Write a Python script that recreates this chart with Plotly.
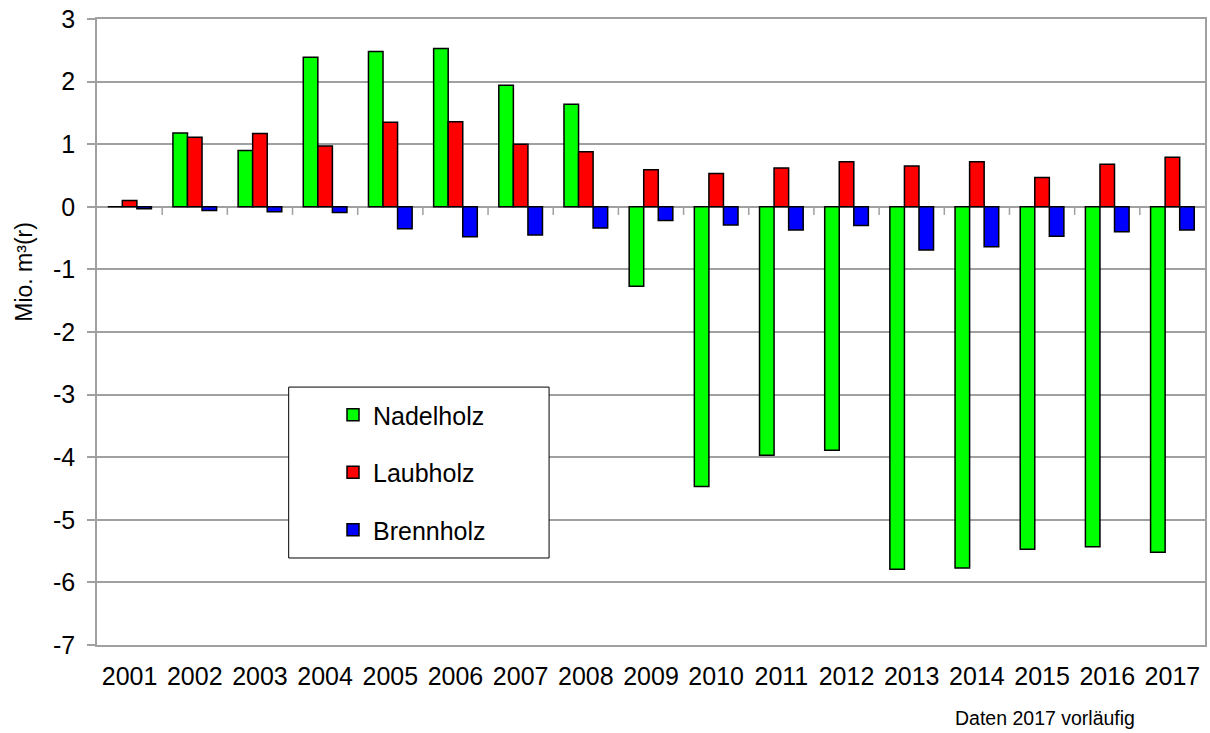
import plotly.graph_objects as go

years = ["2001", "2002", "2003", "2004", "2005", "2006", "2007", "2008", "2009",
         "2010", "2011", "2012", "2013", "2014", "2015", "2016", "2017"]
nadelholz = [0.0, 1.18, 0.90, 2.39, 2.48, 2.53, 1.94, 1.64, -1.27,
             -4.47, -3.97, -3.89, -5.79, -5.77, -5.47, -5.43, -5.52]
laubholz = [0.10, 1.11, 1.17, 0.97, 1.35, 1.36, 1.00, 0.88, 0.59,
            0.53, 0.62, 0.72, 0.65, 0.72, 0.47, 0.68, 0.79]
brennholz = [-0.03, -0.06, -0.08, -0.09, -0.35, -0.48, -0.45, -0.34, -0.22,
             -0.29, -0.37, -0.30, -0.69, -0.64, -0.47, -0.40, -0.37]
series = [("Nadelholz", nadelholz, "#00FF00"),
          ("Laubholz", laubholz, "#FF0000"),
          ("Brennholz", brennholz, "#0000FF")]
y_ticks = [3, 2, 1, 0, -1, -2, -3, -4, -5, -6, -7]

FONT = "Liberation Sans, Arial, sans-serif"
GRID = "#a0a0a0"

fig = go.Figure()
for name, vals, col in series:
    fig.add_trace(go.Bar(x=years, y=vals, name=name, legendgroup=name,
                         marker=dict(color=col, line=dict(color="black", width=1.5))))

shapes = []
for i in range(1, len(years)):
    shapes.append(dict(type="line", xref="x", yref="y", x0=i - 0.5, x1=i - 0.5,
                       y0=0, y1=-0.13, line=dict(color=GRID, width=1.5), layer="above"))
# legend frame
shapes.append(dict(type="rect", xref="paper", yref="paper",
                   x0=0.173, x1=0.408, y0=0.139, y1=0.412,
                   line=dict(color="black", width=1), fillcolor="white", layer="above"))

fig.update_layout(
    width=1210, height=733,
    margin=dict(l=97, r=3, t=19, b=88),
    paper_bgcolor="white", plot_bgcolor="white",
    font=dict(family=FONT, color="black", size=25),
    barmode="group", bargap=0.33, bargroupgap=0,
    showlegend=True,
    legend=dict(x=0.213, y=0.404, xanchor="left", yanchor="top",
                bgcolor="rgba(0,0,0,0)", borderwidth=0,
                font=dict(size=25, family=FONT), tracegroupgap=22,
                traceorder="grouped"),
    shapes=shapes,
    annotations=[
        dict(text="Mio. m³(r)", xref="paper", yref="paper", x=-0.066, y=0.596,
             textangle=-90, showarrow=False, font=dict(size=23, family=FONT),
             xanchor="center", yanchor="middle"),
        dict(text="Daten 2017 vorläufig", xref="paper", yref="paper", x=0.856, y=-0.117,
             showarrow=False, font=dict(size=19.5, family=FONT),
             xanchor="center", yanchor="middle"),
    ],
)
fig.update_xaxes(type="category", showgrid=False, showline=True, mirror=True,
                 linecolor=GRID, linewidth=1.5, ticks="", ticklabelstandoff=8,
                 tickfont=dict(size=25, family=FONT))
fig.update_yaxes(range=[-7, 3], tickvals=y_ticks, ticktext=[str(v) for v in y_ticks],
                 showgrid=True, gridcolor=GRID, gridwidth=1.5,
                 zeroline=False, showline=True, mirror=True, linecolor=GRID, linewidth=1.5,
                 ticks="outside", ticklen=8, tickcolor=GRID, tickwidth=1.5,
                 ticklabelstandoff=7, tickfont=dict(size=25, family=FONT))

fig.write_html("out.html", config={"displayModeBar": False},
               post_script="document.body.style.margin='0';")
